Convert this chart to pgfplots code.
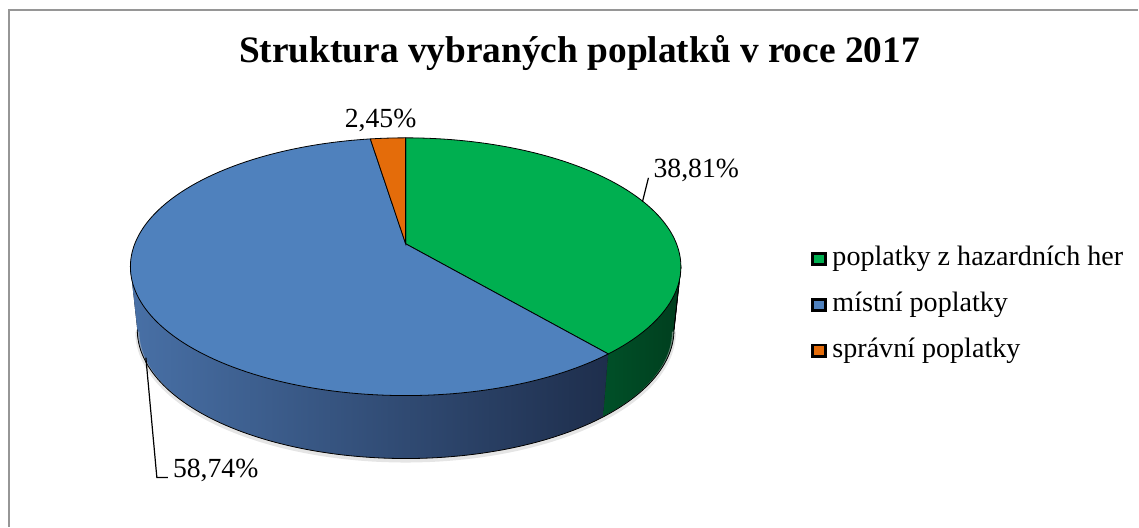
\documentclass[border=0pt]{standalone}
\usepackage{fontspec}
\setmainfont{Liberation Serif}
\usepackage{pgfplots}
\pgfplotsset{compat=1.18}
\usepackage{pgfplotstable}
\usepgfplotslibrary{fillbetween}

\definecolor{cGreen}{RGB}{0,175,80}
\definecolor{cBlue}{RGB}{79,129,189}
\definecolor{cOrange}{RGB}{228,108,10}
\definecolor{cGreenSideL}{RGB}{0,80,40}
\definecolor{cGreenSideR}{RGB}{0,62,30}
\definecolor{cBlueSideL}{RGB}{72,112,166}
\definecolor{cBlueSideR}{RGB}{30,46,76}
\definecolor{cFrame}{RGB}{150,150,150}

% shares in per cent: hazard fees, local fees, administrative fees
\pgfplotstableread{
share
38.81
58.74
2.45
}\piedata
\pgfplotstablegetelem{0}{share}\of\piedata \let\vA\pgfplotsretval
\pgfplotstablegetelem{1}{share}\of\piedata \let\vB\pgfplotsretval
\pgfplotstablegetelem{2}{share}\of\piedata \let\vC\pgfplotsretval

\pgfmathsetmacro{\aB}{90-3.6*\vA}
\pgfmathsetmacro{\aC}{\aB-3.6*\vB}
\pgfmathsetmacro{\aD}{\aC-3.6*\vC}

% perspective projection of the pie (image pixel coordinates, y downward)
\tikzset{declare function={
  px(\t)=406+271.1*cos(\t)/(1+0.178*sin(\t));
  py(\t)=244-124.9*sin(\t)/(1+0.178*sin(\t));
  bx(\t)=406+0.975*271.1*cos(\t)/(1+0.178*sin(\t));
  by(\t)=244-124.9*sin(\t)/(1+0.178*sin(\t))+63;
}}
\pgfmathsetmacro{\eL}{-180+asin(0.178)}
\pgfmathsetmacro{\eR}{-asin(0.178)}

\begin{document}
\begin{tikzpicture}
\begin{axis}[x=1bp,y=1bp,xmin=0,xmax=1139,ymin=0,ymax=527,y dir=reverse,
  hide axis,clip=false,scale only axis]
\path (axis cs:0,0) rectangle (axis cs:1139,527);
% frame
\draw[cFrame,line width=2bp] (axis cs:9,527) -- (axis cs:9,10) -- (axis cs:1139,10);

% side paths
\addplot[name path=btop,draw=none,domain=\eL:\aB,samples=80,variable=\t] ({px(\t)},{py(\t)});
\addplot[name path=bbot,draw=none,domain=\eL:\aB,samples=80,variable=\t] ({bx(\t)},{by(\t)});
\addplot[name path=gtop,draw=none,domain=\aB:\eR,samples=30,variable=\t] ({px(\t)},{py(\t)});
\addplot[name path=gbot,draw=none,domain=\aB:\eR,samples=30,variable=\t] ({bx(\t)},{by(\t)});
% soft shadow
\addplot[gray!40,line width=4bp,opacity=0.5,domain=\eL:\eR,samples=100,variable=\t] ({bx(\t)},{by(\t)+2});
\addplot[left color=cBlueSideL,right color=cBlueSideR] fill between[of=btop and bbot];
\addplot[left color=cGreenSideL,right color=cGreenSideR] fill between[of=gtop and gbot];
\addplot[black,line width=0.8bp,domain=\eL:\eR,samples=120,variable=\t] ({bx(\t)},{by(\t)});
\pgfmathsetmacro{\sxa}{px(\aB)}\pgfmathsetmacro{\sya}{py(\aB)}
\pgfmathsetmacro{\sxb}{bx(\aB)}\pgfmathsetmacro{\syb}{by(\aB)}
\draw[black,line width=0.8bp] (axis cs:\sxa,\sya) -- (axis cs:\sxb,\syb);
\pgfmathsetmacro{\sxa}{px(\eL)}\pgfmathsetmacro{\sya}{py(\eL)}
\pgfmathsetmacro{\sxb}{bx(\eL)}\pgfmathsetmacro{\syb}{by(\eL)}
\draw[black,line width=0.6bp] (axis cs:\sxa,\sya) -- (axis cs:\sxb,\syb);
\pgfmathsetmacro{\sxa}{px(\eR)}\pgfmathsetmacro{\sya}{py(\eR)}
\pgfmathsetmacro{\sxb}{bx(\eR)}\pgfmathsetmacro{\syb}{by(\eR)}
\draw[black,line width=0.6bp] (axis cs:\sxa,\sya) -- (axis cs:\sxb,\syb);

% top face
\addplot[fill=cGreen,draw=black,line width=0.8bp,domain=\aB:90,samples=100,variable=\t]
  ({px(\t)},{py(\t)}) -- (axis cs:406,244) -- cycle;
\addplot[fill=cBlue,draw=black,line width=0.8bp,domain=\aC:\aB,samples=140,variable=\t]
  ({px(\t)},{py(\t)}) -- (axis cs:406,244) -- cycle;
\addplot[fill=cOrange,draw=black,line width=0.8bp,domain=\aD:\aC,samples=10,variable=\t]
  ({px(\t)},{py(\t)}) -- (axis cs:406,244) -- cycle;

% data labels
\addplot[black,line width=1.2bp] coordinates {(649,178) (643,202)};
\addplot[black,line width=1.2bp] coordinates {(146,358) (157,478) (168,478)};
\node[anchor=base west,inner sep=0pt,font=\fontsize{27.8}{30}\selectfont] at (axis cs:654,178) {38,81\%};
\node[anchor=base west,inner sep=0pt,font=\fontsize{27.8}{30}\selectfont] at (axis cs:345,128) {2,45\%};
\node[anchor=base west,inner sep=0pt,font=\fontsize{27.8}{30}\selectfont] at (axis cs:173,478) {58,74\%};

% legend
\draw[fill=cGreen,draw=black,line width=2.6bp] (axis cs:813.5,253.5) rectangle (axis cs:826.5,265);
\draw[fill=cBlue,draw=black,line width=2.6bp] (axis cs:813.5,299.5) rectangle (axis cs:826.5,311);
\draw[fill=cOrange,draw=black,line width=2.6bp] (axis cs:813.5,345.5) rectangle (axis cs:826.5,357);
\node[anchor=base west,inner sep=0pt,font=\fontsize{28.2}{30}\selectfont] at (axis cs:833,266) {poplatky z hazardních her};
\node[anchor=base west,inner sep=0pt,font=\fontsize{28.2}{30}\selectfont] at (axis cs:833,312) {místní poplatky};
\node[anchor=base west,inner sep=0pt,font=\fontsize{28.2}{30}\selectfont] at (axis cs:833,358) {správní poplatky};

% title
\node[anchor=base,inner sep=0pt,font=\fontsize{37.5}{40}\selectfont\bfseries] at (axis cs:580,63) {Struktura vybraných poplatků v roce 2017};
\end{axis}
\end{tikzpicture}
\end{document}
